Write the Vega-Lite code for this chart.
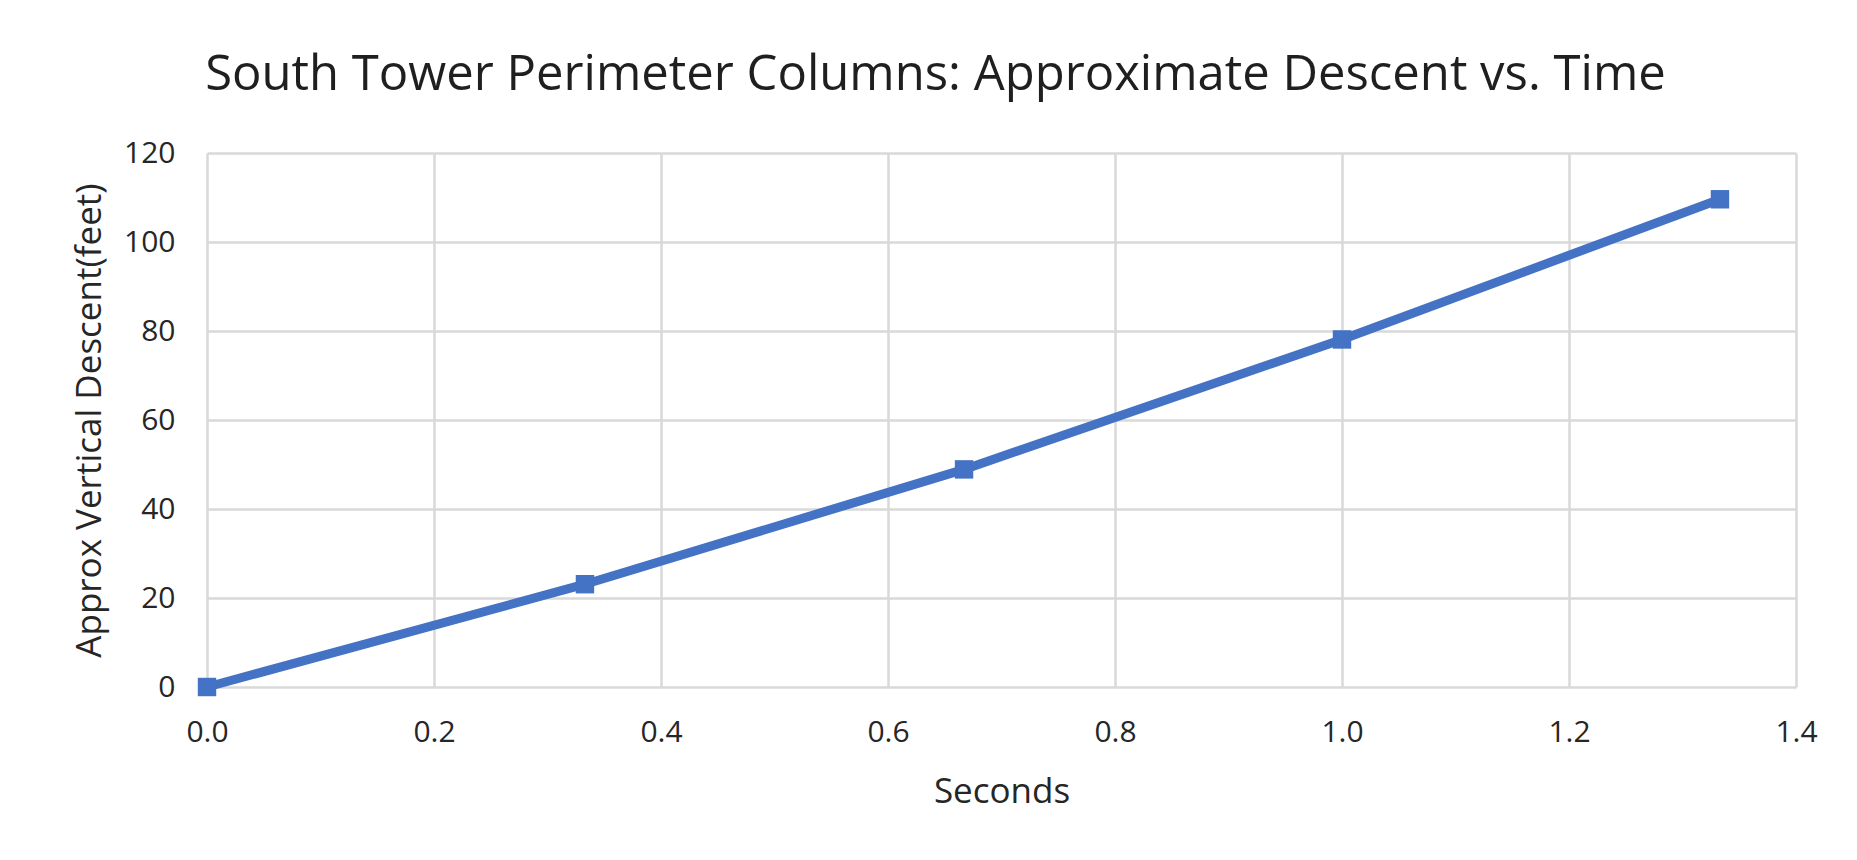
{
  "$schema": "https://vega.github.io/schema/vega-lite/v6.json",
  "autosize": {"type": "none"},
  "width": 1589,
  "height": 534,
  "padding": {"left": 207, "top": 153, "right": 61, "bottom": 173},
  "background": "white",
  "title": {
    "text": "South Tower Perimeter Columns: Approximate Descent vs. Time",
    "font": "Open Sans",
    "fontSize": 49,
    "fontWeight": "normal",
    "color": "#1f1f1f",
    "anchor": "middle",
    "dx": -66,
    "offset": 38
  },
  "data": {
    "values": [
      {"seconds": 0.0, "descent": 0.0},
      {"seconds": 0.333, "descent": 23.1},
      {"seconds": 0.667, "descent": 48.9},
      {"seconds": 1.0, "descent": 78.1},
      {"seconds": 1.333, "descent": 109.6}
    ]
  },
  "mark": {
    "type": "line",
    "color": "#4472C4",
    "strokeWidth": 9,
    "point": {"shape": "square", "size": 340, "filled": true, "color": "#4472C4", "opacity": 1}
  },
  "encoding": {
    "x": {
      "field": "seconds",
      "type": "quantitative",
      "title": "Seconds",
      "scale": {"domain": [0, 1.4], "nice": false},
      "axis": {
        "values": [0, 0.2, 0.4, 0.6, 0.8, 1.0, 1.2, 1.4],
        "format": ".1f",
        "labelPadding": 30,
        "titlePadding": 27
      }
    },
    "y": {
      "field": "descent",
      "type": "quantitative",
      "title": "Approx Vertical Descent(feet)",
      "scale": {"domain": [0, 120], "nice": false},
      "axis": {
        "values": [0, 20, 40, 60, 80, 100, 120],
        "labelPadding": 32,
        "titlePadding": 16
      }
    }
  },
  "config": {
    "view": {"stroke": null},
    "axis": {
      "domain": false,
      "ticks": false,
      "grid": true,
      "gridColor": "#d9d9d9",
      "gridWidth": 2.5,
      "labelFont": "Open Sans",
      "labelFontSize": 30,
      "labelColor": "#262626",
      "titleFont": "Open Sans",
      "titleFontSize": 35,
      "titleFontWeight": "normal",
      "titleColor": "#262626",
      "labelFlush": false,
      "labelOverlap": false
    }
  }
}
